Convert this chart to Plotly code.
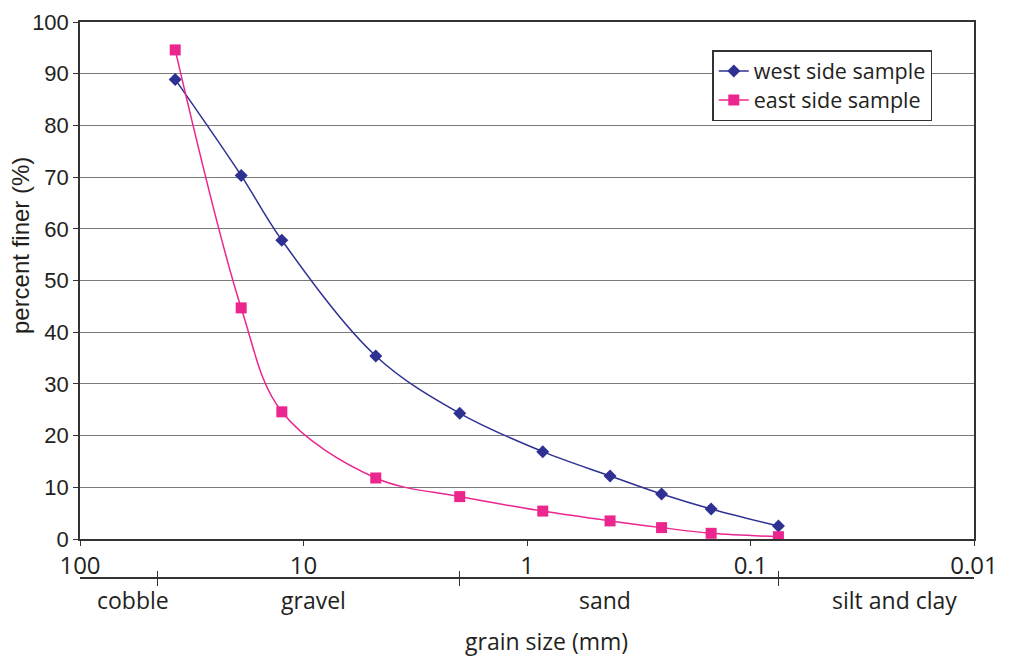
import numpy as np
import plotly.graph_objects as go

# grain sizes (mm) of the sieves
grain_size = [37.5, 19, 12.5, 4.75, 2, 0.85, 0.425, 0.25, 0.15, 0.075]
west_finer = [88.9, 70.3, 57.8, 35.4, 24.3, 16.9, 12.2, 8.7, 5.8, 2.5]
east_finer = [94.6, 44.7, 24.6, 11.8, 8.2, 5.4, 3.5, 2.2, 1.1, 0.45]

x_tick_vals = [100, 10, 1, 0.1, 0.01]
x_tick_text = ["100", "10", "1", "0.1", "0.01"]
y_tick_vals = [0, 10, 20, 30, 40, 50, 60, 70, 80, 90, 100]

# soil class boundaries (mm) and class labels
class_bounds = [45, 2, 0.075]
class_names = ["cobble", "gravel", "sand", "silt and clay"]
class_label_pos = [58, 9.0, 0.446, 0.0228]

WEST = "#2E3192"
EAST = "#EC268F"
MYRIAD = "Open Sans, Noto Sans, sans-serif"
ARIAL = "Liberation Sans, Arial, sans-serif"

# the page adds an 8px body margin; figure coordinates = page coordinates - 8
OFF = 8

fig = go.Figure()
fig.add_trace(go.Scatter(
    x=grain_size, y=west_finer,
    name='<span style="font-size:21.5px">west side sample</span>',
    mode="lines+markers",
    line=dict(color=WEST, width=1.5, shape="spline", smoothing=1.0),
    marker=dict(symbol="diamond", size=10, color=WEST),
))
fig.add_trace(go.Scatter(
    x=grain_size, y=east_finer,
    name='<span style="font-size:21.5px">east side sample</span>',
    mode="lines+markers",
    line=dict(color=EAST, width=1.5, shape="spline", smoothing=1.0),
    marker=dict(symbol="square", size=11, color=EAST),
))

# invisible helper traces for the lower classification axis
fig.add_trace(go.Scatter(x=class_bounds, y=[None] * len(class_bounds),
                         xaxis="x2", yaxis="y", showlegend=False, hoverinfo="skip"))
fig.add_trace(go.Scatter(x=class_bounds, y=[None] * len(class_bounds),
                         xaxis="x3", yaxis="y", showlegend=False, hoverinfo="skip"))

paper_top, paper_bot = 22, 646
ph = paper_bot - paper_top
pw = 895
dom_bottom = (paper_bot - 539) / ph
axis2_pos = (paper_bot - 577.5) / ph
labels_y = (paper_bot - 600) / ph
title_y = (paper_bot - 641) / ph

fig.update_layout(
    width=1009 - OFF, height=656 - OFF,
    margin=dict(l=80 - OFF, r=35, t=paper_top - OFF, b=656 - paper_bot - OFF + 8),
    paper_bgcolor="white", plot_bgcolor="white",
    showlegend=True,
    legend=dict(
        x=(713 - 80) / pw, y=1 - (50 - paper_top) / ph, xanchor="left", yanchor="top",
        bgcolor="white", bordercolor="#333333", borderwidth=1.5,
        font=dict(family=MYRIAD, size=20, color="#231F20"),
        tracegroupgap=0, itemwidth=30,
    ),
    xaxis=dict(
        type="log", range=[2, -2], tickvals=x_tick_vals, ticktext=x_tick_text,
        showgrid=False, showline=True, linecolor="#333333", linewidth=1.5,
        mirror=True, ticks="outside", ticklen=5, tickcolor="#333333",
        tickfont=dict(family=MYRIAD, size=24, color="#231F20"),
        ticklabelstandoff=-1,
        zeroline=False, anchor="y", automargin=False,
    ),
    xaxis2=dict(
        type="log", range=[2, -2], overlaying="x", anchor="free",
        position=axis2_pos, tickvals=class_bounds, showticklabels=False,
        showgrid=False, showline=True, linecolor="#333333", linewidth=1.5,
        ticks="outside", ticklen=8, tickcolor="#333333", side="bottom",
        automargin=False,
    ),
    xaxis3=dict(
        type="log", range=[2, -2], overlaying="x", anchor="free",
        position=axis2_pos, tickvals=class_bounds, showticklabels=False,
        showgrid=False, showline=False,
        ticks="inside", ticklen=7, tickcolor="#333333", side="bottom",
        automargin=False,
    ),
    yaxis=dict(
        domain=[dom_bottom, 1], range=[0, 100], tickvals=y_tick_vals,
        showgrid=True, gridcolor="#7a7a7a", gridwidth=1.3,
        showline=True, linecolor="#333333", linewidth=1.5, mirror=True,
        ticks="outside", ticklen=5, tickcolor="#333333",
        tickfont=dict(family=ARIAL, size=22, color="#231F20"),
        zeroline=False, automargin=False,
    ),
)

# y-axis title (placed like the reference, above the axis centre)
fig.add_annotation(
    x=(21 - 80) / pw, y=(paper_bot - 246) / ph, xref="paper", yref="paper",
    text="percent finer (%)", textangle=-90, showarrow=False,
    xanchor="center", yanchor="middle",
    font=dict(family=ARIAL, size=24, color="#231F20"),
)

for name, pos in zip(class_names, class_label_pos):
    fig.add_annotation(
        x=np.log10(pos), y=labels_y, xref="x", yref="paper",
        text=name, showarrow=False, xanchor="center", yanchor="middle",
        font=dict(family=MYRIAD, size=23, color="#231F20"),
    )

fig.add_annotation(
    x=0.522, y=title_y, xref="paper", yref="paper",
    text="grain size (mm)", showarrow=False, xanchor="center", yanchor="middle",
    font=dict(family=MYRIAD, size=23, color="#231F20"),
)

fig.write_html("out.html")
